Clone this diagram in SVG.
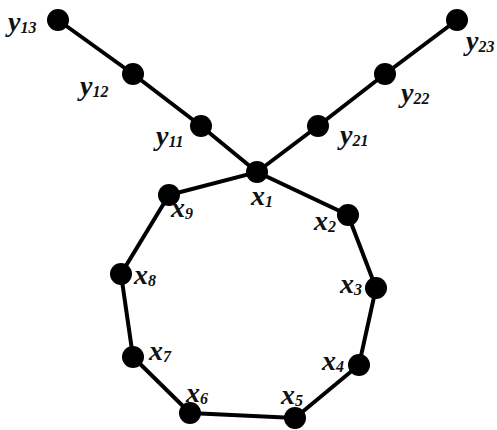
<svg xmlns="http://www.w3.org/2000/svg" width="497" height="430" viewBox="0 0 497 430">
<style>
.e{stroke:#000;stroke-width:4;fill:none;stroke-linecap:round}
.n{fill:#000}
.l{font-family:"Liberation Serif","Times New Roman",serif;font-style:italic;font-weight:bold;font-size:28px;fill:#111}
.s{font-size:16px}
</style>
<rect width="497" height="430" fill="#fff"/>
<g id="edges">
<polyline class="e" points="58,20 133,74 201,126 257,172"/>
<polyline class="e" points="457,20 385,74 318,126 257,172"/>
<polygon class="e" points="257,172 348,215 376,288 359,365 295,418 190,413 133,357 121,274 169,195"/>
</g>
<g id="y13"><circle class="n" cx="58" cy="20" r="11"/><text class="l" x="8" y="31">y<tspan class="s" dy="2">13</tspan></text></g>
<g id="y12"><circle class="n" cx="133" cy="74" r="11"/><text class="l" x="80" y="95">y<tspan class="s" dy="2">12</tspan></text></g>
<g id="y11"><circle class="n" cx="201" cy="126" r="11"/><text class="l" x="156" y="145">y<tspan class="s" dy="2">11</tspan></text></g>
<g id="y21"><circle class="n" cx="318" cy="126" r="11"/><text class="l" x="340" y="144">y<tspan class="s" dy="2">21</tspan></text></g>
<g id="y22"><circle class="n" cx="385" cy="74" r="11"/><text class="l" x="401" y="102">y<tspan class="s" dy="2">22</tspan></text></g>
<g id="y23"><circle class="n" cx="457" cy="20" r="11"/><text class="l" x="466" y="50">y<tspan class="s" dy="2">23</tspan></text></g>
<g id="x1"><circle class="n" cx="257" cy="172" r="11"/><text class="l" x="251" y="205">x<tspan class="s" dy="2">1</tspan></text></g>
<g id="x2"><circle class="n" cx="348" cy="215" r="11"/><text class="l" x="314" y="230">x<tspan class="s" dy="2">2</tspan></text></g>
<g id="x3"><circle class="n" cx="376" cy="288" r="11"/><text class="l" x="340" y="293">x<tspan class="s" dy="2">3</tspan></text></g>
<g id="x4"><circle class="n" cx="359" cy="365" r="11"/><text class="l" x="322" y="370">x<tspan class="s" dy="2">4</tspan></text></g>
<g id="x5"><circle class="n" cx="295" cy="418" r="11"/><text class="l" x="281" y="404">x<tspan class="s" dy="2">5</tspan></text></g>
<g id="x6"><circle class="n" cx="190" cy="413" r="11"/><text class="l" x="186" y="402">x<tspan class="s" dy="2">6</tspan></text></g>
<g id="x7"><circle class="n" cx="133" cy="357" r="11"/><text class="l" x="149" y="360">x<tspan class="s" dy="2">7</tspan></text></g>
<g id="x8"><circle class="n" cx="121" cy="274" r="11"/><text class="l" x="134" y="284">x<tspan class="s" dy="2">8</tspan></text></g>
<g id="x9"><circle class="n" cx="169" cy="195" r="11"/><text class="l" x="171" y="217">x<tspan class="s" dy="2">9</tspan></text></g>
</svg>
